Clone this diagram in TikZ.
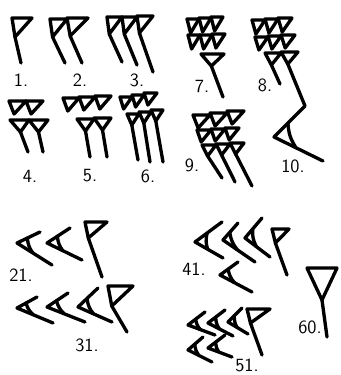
\documentclass[tikz,border=0pt]{standalone}
\usepackage{tikz}
\usetikzlibrary{calc}
\tikzstyle{stroke} = [line width=2.5pt, line cap=round, line join=round]
\tikzstyle{lbl} = [font=\fontsize{14}{14}\selectfont\sffamily, inner sep=0pt]
% head of a vertical wedge: x, y, width, height
\newcommand{\headV}[5][0.3]{\draw[stroke] (#2,#3) -- ({#2+#4},#3) -- ({#2+#1*#4},{#3+#5}) -- cycle;}
% vertical wedge: head and tail end
\newcommand{\wedgeV}[7][0.3]{\headV[#1]{#2}{#3}{#4}{#5}\draw[stroke] ({#2+#1*#4},{#3+#5}) -- (#6,#7);}
% corner wedge: vertex, upper end, lower end
\newcommand{\wedgeC}[6]{\draw[stroke] (#3,#4) -- (#1,#2) -- (#5,#6);
  \draw[stroke] ($(#1,#2)!0.45!(#3,#4)$) to[bend right=15] ($(#1,#2)!0.45!(#5,#6)$);}

\begin{document}
\begin{tikzpicture}[x=0.75pt, y=-0.75pt]
        \fill[white] (0,0) rectangle (341,375);
        \useasboundingbox (0,0) rectangle (341,375);
        \wedgeV[0.15]{12}{18}{20}{19}{21}{63}
        \wedgeV[0.15]{50}{19}{17}{18}{65}{63}
        \wedgeV[0.15]{67}{18}{21}{18}{82}{63}
        \wedgeV[0.15]{107}{17}{15}{17}{122}{62}
        \wedgeV[0.15]{122}{17}{15}{17}{137}{65}
        \wedgeV[0.15]{137}{16}{16}{17}{153}{72}
        \headV{9}{101}{17}{13}
        \headV{26}{101}{17}{13}
        \wedgeV[0.55]{10}{120}{19}{12}{28}{152}
        \wedgeV[0.5]{29}{120}{19}{12}{43}{152}
        \headV{63}{98}{16}{13}
        \headV{79}{97}{16}{13}
        \headV{95}{96}{16}{13}
        \wedgeV[0.5]{77}{119}{17}{12}{90}{157}
        \wedgeV[0.5]{94}{118}{17}{12}{107}{157}
        \headV{120}{97}{12}{12}
        \headV{132}{95}{12}{12}
        \headV{144}{93}{13}{12}
        \wedgeV[0.4]{127}{114}{12}{11}{138}{160}
        \wedgeV[0.4]{139}{112}{12}{11}{150}{162}
        \wedgeV[0.4]{151}{110}{12}{11}{163}{162}
        \headV{187}{19}{12}{14}
        \headV{199}{18}{12}{14}
        \headV{211}{17}{12}{14}
        \headV{188}{35}{12}{14}
        \headV{200}{35}{12}{14}
        \headV{212}{34}{13}{14}
        \wedgeV[0.45]{201}{54}{23}{12}{223}{97}
        \headV{252}{20}{13}{14}
        \headV{265}{19}{13}{14}
        \headV{278}{18}{14}{14}
        \headV{255}{37}{13}{13}
        \headV{268}{36}{13}{13}
        \headV{281}{35}{14}{13}
        \wedgeV[0.4]{265}{53}{16}{12}{280}{84}
        \wedgeV[0.4]{281}{52}{17}{12}{305}{106}
        \wedgeC{274}{137}{305}{106}{323}{161}
        \headV{193}{115}{17}{13}
        \headV{210}{113}{17}{13}
        \headV{227}{111}{17}{13}
        \headV{197}{130}{14}{12}
        \headV{211}{129}{14}{12}
        \headV{225}{128}{14}{12}
        \wedgeV[0.4]{202}{145}{14}{11}{222}{178}
        \wedgeV[0.4]{216}{144}{14}{11}{235}{182}
        \wedgeV[0.4]{230}{143}{14}{11}{252}{186}
        \wedgeC{17}{243}{40}{232}{52}{265}
        \wedgeC{47}{243}{70}{228}{82}{260}
        \wedgeV[0.15]{85}{222}{22}{16}{102}{277}
        \wedgeC{17}{308}{37}{297}{53}{323}
        \wedgeC{47}{307}{68}{293}{85}{322}
        \wedgeC{78}{307}{98}{288}{112}{322}
        \wedgeV[0.15]{108}{286}{25}{20}{127}{332}
        \wedgeC{195}{242}{222}{222}{223}{258}
        \wedgeC{223}{240}{238}{223}{255}{262}
        \wedgeC{245}{238}{262}{218}{270}{257}
        \wedgeV[0.2]{272}{229}{17}{14}{287}{275}
        \wedgeC{220}{275}{238}{262}{252}{292}
        \wedgeC{188}{325}{205}{312}{215}{335}
        \wedgeC{208}{323}{225}{310}{233}{336}
        \wedgeC{228}{322}{242}{308}{248}{334}
        \wedgeV[0.15]{247}{309}{23}{14}{262}{355}
        \wedgeC{188}{350}{203}{337}{212}{362}
        \wedgeC{208}{348}{225}{335}{232}{357}
        \wedgeV[0.5]{307}{268}{30}{32}{327}{337}
        \node[lbl] (n1) at (21,80) {1.};
        \node[lbl] (n2) at (80,80) {2.};
        \node[lbl] (n3) at (137,80) {3.};
        \node[lbl] (n4) at (30,176) {4.};
        \node[lbl] (n5) at (90,176) {5.};
        \node[lbl] (n6) at (148,176) {6.};
        \node[lbl] (n7) at (202,86) {7.};
        \node[lbl] (n8) at (265,85) {8.};
        \node[lbl] (n9) at (192,165) {9.};
        \node[lbl] (n10) at (293,166) {10.};
        \node[lbl] (n21) at (21,275) {21.};
        \node[lbl] (n31) at (87,345) {31.};
        \node[lbl] (n41) at (194,269) {41.};
        \node[lbl] (n51) at (247,365) {51.};
        \node[lbl] (n60) at (310,327) {60.};
    \end{tikzpicture}
\end{document}
